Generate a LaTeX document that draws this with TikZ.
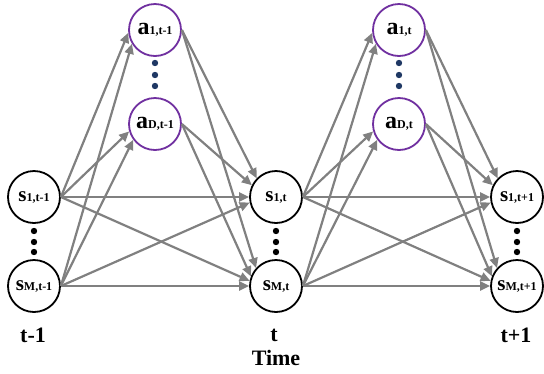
\documentclass[tikz,border=0pt]{standalone}
\usepackage{fontspec}
\setmainfont{Liberation Serif}
\usetikzlibrary{arrows.meta}
\definecolor{apurple}{HTML}{7030A0}
\definecolor{agray}{HTML}{808080}
\definecolor{dotnavy}{HTML}{1F3864}
\newcommand\slab[2]{{\fontsize{21}{21}\selectfont\bfseries #1}{\fontsize{12}{12}\selectfont\bfseries #2}}
\newcommand\alab[2]{{\fontsize{24}{24}\selectfont\bfseries #1}{\fontsize{12}{12}\selectfont\bfseries #2}}
\begin{document}
\begin{tikzpicture}[x=1pt,y=-1pt,
  snode/.style={circle,draw=black,line width=1.8pt,minimum size=52pt,inner sep=0pt,fill=white},
  anode/.style={circle,draw=apurple,line width=1.8pt,minimum size=52pt,inner sep=0pt,fill=white},
  conn/.style={draw=agray,line width=2.2pt,-{Triangle[length=10pt,width=9pt]}},
  tlab/.style={font=\fontsize{22}{22}\selectfont\bfseries,inner sep=0pt},
  sdot/.style={fill=black},
  adot/.style={fill=dotnavy}
]
\useasboundingbox (0,0) rectangle (544,373);
% nodes
\node[snode] (s1a) at (34,197) {\slab{s}{1,t-1}};
\node[snode] (sMa) at (34,286) {\slab{s}{M,t-1}};
\node[anode] (a1a) at (155,30) {\alab{a}{1,t-1}};
\node[anode] (aDa) at (155,124) {\alab{a}{D,t-1}};
\node[snode] (s1b) at (276,197) {\slab{s}{1,t}};
\node[snode] (sMb) at (276,286) {\slab{s}{M,t}};
\node[anode] (a1b) at (399,30) {\alab{a}{1,t}};
\node[anode] (aDb) at (399,124) {\alab{a}{D,t}};
\node[snode] (s1c) at (517,197) {\slab{s}{1,t+1}};
\node[snode] (sMc) at (517,286) {\slab{s}{M,t+1}};
% dots
\foreach \x in {34,276,517} {
  \foreach \y in {231,242,252} { \fill[sdot] (\x,\y) circle (3.2pt); }
}
\foreach \x in {155,399} {
  \foreach \y in {63,75,86} { \fill[adot] (\x,\y) circle (3.2pt); }
}
% labels
\node[tlab] (lt1) at (33,335) {t-1};
\node[tlab] (lt) at (274,335) {t};
\node[tlab] (lt2) at (516,335) {t+1};
\node[tlab] (ltime) at (276,358) {Time};
% edges
\foreach \p/\ap/\n in {a/a/b, b/b/c} {
  \draw[conn] (s1\p.east) -- (a1\ap.186);
  \draw[conn] (sM\p.east) -- (a1\ap.211);
  \draw[conn] (s1\p.east) -- (aD\ap.196);
  \draw[conn] (sM\p.east) -- (aD\ap.216);
  \draw[conn] (s1\p.east) -- (s1\n.180);
  \draw[conn] (sM\p.east) -- (s1\n.192);
  \draw[conn] (a1\ap.east) -- (s1\n.136);
  \draw[conn] (aD\ap.east) -- (s1\n.154);
  \draw[conn] (s1\p.east) -- (sM\n.169);
  \draw[conn] (sM\p.east) -- (sM\n.180);
  \draw[conn] (a1\ap.east) -- (sM\n.138);
  \draw[conn] (aD\ap.east) -- (sM\n.159);
}
\end{tikzpicture}
\end{document}
